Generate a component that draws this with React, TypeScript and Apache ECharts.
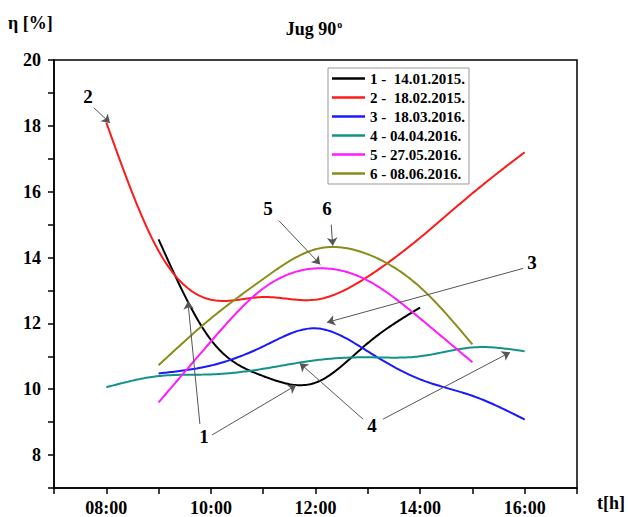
import React, { useEffect, useRef } from "react";
import * as echarts from "echarts";

const seriesNames = [
  "1 -  14.01.2015.",
  "2 -  18.02.2015.",
  "3 -  18.03.2016.",
  "4 - 04.04.2016.",
  "5 - 27.05.2016.",
  "6 - 08.06.2016.",
];
const seriesColors = ["#000000", "#ff1a1a", "#1a1aff", "#12938a", "#ff1aff", "#8c8c1a"];

const hours1 = [9, 10, 11, 12, 13, 14];
const values1 = [14.55, 11.5, 10.4, 10.2, 11.4, 12.48];
const hours2 = [8, 9, 10, 11, 12, 13, 14, 15, 16];
const values2 = [18.1, 14.2, 12.72, 12.8, 12.72, 13.42, 14.6, 15.95, 17.2];
const hours3 = [9, 10, 11, 12, 13, 14, 15, 16];
const values3 = [10.48, 10.72, 11.3, 11.85, 11.15, 10.3, 9.8, 9.08];
const hours4 = [8, 9, 10, 11, 12, 13, 14, 15, 16];
const values4 = [10.06, 10.4, 10.45, 10.62, 10.88, 10.97, 11.0, 11.27, 11.15];
const hours5 = [9, 10, 11, 12, 13, 14, 15];
const values5 = [9.6, 11.45, 13.06, 13.67, 13.3, 12.15, 10.82];
const hours6 = [9, 10, 11, 12, 13, 14, 15];
const values6 = [10.73, 12.15, 13.35, 14.25, 14.1, 13.1, 11.36];

const allHours = [hours1, hours2, hours3, hours4, hours5, hours6];
const allValues = [values1, values2, values3, values4, values5, values6];

// annotation labels: [text, hour, value]
const labelTexts = ["2", "5", "6", "3", "1", "4"];
const labelHours = [7.65, 11.09, 12.22, 16.14, 9.87, 13.08];
const labelValues = [18.88, 15.48, 15.48, 13.85, 8.55, 8.91];

// annotation arrows: from (h1,v1) to (h2,v2)
const arrowFromHours = [7.76, 11.3, 12.3, 15.97, 9.79, 10.02, 12.91, 13.29];
const arrowFromValues = [18.55, 15.12, 15.0, 13.67, 8.94, 8.61, 9.09, 9.09];
const arrowToHours = [8.07, 12.09, 12.33, 12.22, 9.56, 11.63, 11.7, 15.72];
const arrowToValues = [18.09, 13.79, 14.36, 12.03, 12.67, 10.12, 10.79, 11.12];

const FONT = "'Liberation Serif', 'Times New Roman', serif";

// natural cubic spline through the measured points (rendering only)
function splineSamples(xs: number[], ys: number[], steps: number): number[][] {
  const n = xs.length;
  const h: number[] = [];
  for (let i = 0; i < n - 1; i++) h.push(xs[i + 1] - xs[i]);
  const M = new Array(n).fill(0);
  if (n > 2) {
    const a: number[] = [], b: number[] = [], c: number[] = [], d: number[] = [];
    for (let i = 1; i < n - 1; i++) {
      a.push(h[i - 1]);
      b.push(2 * (h[i - 1] + h[i]));
      c.push(h[i]);
      d.push(6 * ((ys[i + 1] - ys[i]) / h[i] - (ys[i] - ys[i - 1]) / h[i - 1]));
    }
    const m = b.length;
    for (let i = 1; i < m; i++) {
      const w = a[i] / b[i - 1];
      b[i] -= w * c[i - 1];
      d[i] -= w * d[i - 1];
    }
    const sol = new Array(m).fill(0);
    sol[m - 1] = d[m - 1] / b[m - 1];
    for (let i = m - 2; i >= 0; i--) sol[i] = (d[i] - c[i] * sol[i + 1]) / b[i];
    for (let i = 0; i < m; i++) M[i + 1] = sol[i];
  }
  const out: number[][] = [];
  for (let i = 0; i < n - 1; i++) {
    const hi = h[i];
    for (let s = 0; s < steps; s++) {
      const x = xs[i] + (hi * s) / steps;
      const A = xs[i + 1] - x;
      const B = x - xs[i];
      const y =
        (M[i] * A * A * A) / (6 * hi) +
        (M[i + 1] * B * B * B) / (6 * hi) +
        (ys[i] / hi - (M[i] * hi) / 6) * A +
        (ys[i + 1] / hi - (M[i + 1] * hi) / 6) * B;
      out.push([x, y]);
    }
  }
  out.push([xs[n - 1], ys[n - 1]]);
  return out;
}

export default function App() {
  const ref = useRef<HTMLDivElement>(null);

  useEffect(() => {
    if (!ref.current) return;
    const chart = echarts.init(ref.current, null, { renderer: "svg" });

    const lineSeries = seriesNames.map((name, i) => {
      const samples = splineSamples(allHours[i], allValues[i], 30);
      return {
        name,
        type: "custom",
        data: allHours[i].map((h, j) => [h, allValues[i][j]]),
        encode: { x: 0, y: 1 },
        itemStyle: { color: seriesColors[i] },
        z: 3,
        renderItem: (params: any, api: any) => {
          if (params.dataIndex !== 0) return null;
          const pts = samples.map((p) => api.coord(p));
          return {
            type: "polyline",
            shape: { points: pts },
            style: { stroke: seriesColors[i], lineWidth: 2, fill: "none" },
          };
        },
      };
    });

    const annotSeries = {
      name: "annot",
      type: "line",
      data: [],
      silent: true,
      z: 4,
      markLine: {
        silent: true,
        symbol: ["none", "arrow"],
        symbolSize: 8,
        animation: false,
        label: { show: false },
        itemStyle: { color: "#222" },
        lineStyle: { color: "#555", width: 1, type: "solid" },
        data: arrowFromHours.map((h, i) => [
          { coord: [h, arrowFromValues[i]] },
          { coord: [arrowToHours[i], arrowToValues[i]] },
        ]),
      },
      markPoint: {
        silent: true,
        symbol: "circle",
        symbolSize: 1,
        itemStyle: { color: "rgba(0,0,0,0)" },
        label: {
          show: true,
          position: "inside",
          formatter: "{b}",
          color: "#000",
          fontFamily: FONT,
          fontWeight: "bold",
          fontSize: 19,
        },
        data: labelTexts.map((t, i) => ({ name: t, coord: [labelHours[i], labelValues[i]] })),
      },
    };

    chart.setOption({
      animation: false,
      backgroundColor: "#ffffff",
      title: {
        text: "{a|Jug 90}{b|o}",
        left: "center",
        top: 14,
        textStyle: {
          rich: {
            a: { fontFamily: FONT, fontWeight: "bold", fontSize: 18, color: "#000" },
            b: { fontFamily: FONT, fontWeight: "bold", fontSize: 10, color: "#000", verticalAlign: "top", padding: [0, 0, 9, 1] },
          },
        },
      },
      legend: {
        data: seriesNames,
        orient: "vertical",
        left: 328,
        top: 68,
        padding: [3, 4, 3, 4],
        icon: "rect",
        itemWidth: 33,
        itemHeight: 2.5,
        itemGap: 4,
        borderColor: "#999",
        borderWidth: 1,
        backgroundColor: "#fff",
        textStyle: { fontFamily: FONT, fontWeight: "bold", fontSize: 15, color: "#000", lineHeight: 15, height: 15 },
      },
      grid: {
        left: 54,
        right: 51,
        top: 60,
        bottom: 28,
        show: true,
        borderColor: "#000",
        borderWidth: 1.5,
        backgroundColor: "transparent",
      },
      xAxis: {
        type: "value",
        min: 7,
        max: 17,
        interval: 1,
        splitLine: { show: false },
        axisLine: { lineStyle: { color: "#000", width: 1.5 } },
        axisTick: { length: 6, lineStyle: { color: "#000", width: 1.5 } },
        axisLabel: {
          margin: 11,
          color: "#000",
          fontFamily: FONT,
          fontWeight: "bold",
          fontSize: 18,
          formatter: (v: number) => (v % 2 === 0 ? String(v).padStart(2, "0") + ":00" : ""),
        },
      },
      yAxis: {
        type: "value",
        min: 7,
        max: 20,
        interval: 1,
        splitLine: { show: false },
        axisLine: { lineStyle: { color: "#000", width: 1.5 } },
        axisTick: { length: 6, lineStyle: { color: "#000", width: 1.5 } },
        axisLabel: {
          margin: 13,
          color: "#000",
          fontFamily: FONT,
          fontWeight: "bold",
          fontSize: 18,
          formatter: (v: number) => (v % 2 === 0 ? String(v) : ""),
        },
      },
      graphic: [
        {
          type: "text",
          left: 8,
          top: 14,
          style: { text: "η [%]", fontFamily: FONT, fontWeight: "bold", fontSize: 18, fill: "#000" },
        },
        {
          type: "text",
          left: 597,
          top: 494,
          style: { text: "t[h]", fontFamily: FONT, fontWeight: "bold", fontSize: 18, fill: "#000" },
        },
      ],
      series: [...lineSeries, annotSeries],
    });

    return () => chart.dispose();
  }, []);

  return (
    <div
      ref={ref}
      style={{ position: "fixed", left: 0, top: 0, width: 628, height: 517, background: "#fff" }}
    />
  );
}
